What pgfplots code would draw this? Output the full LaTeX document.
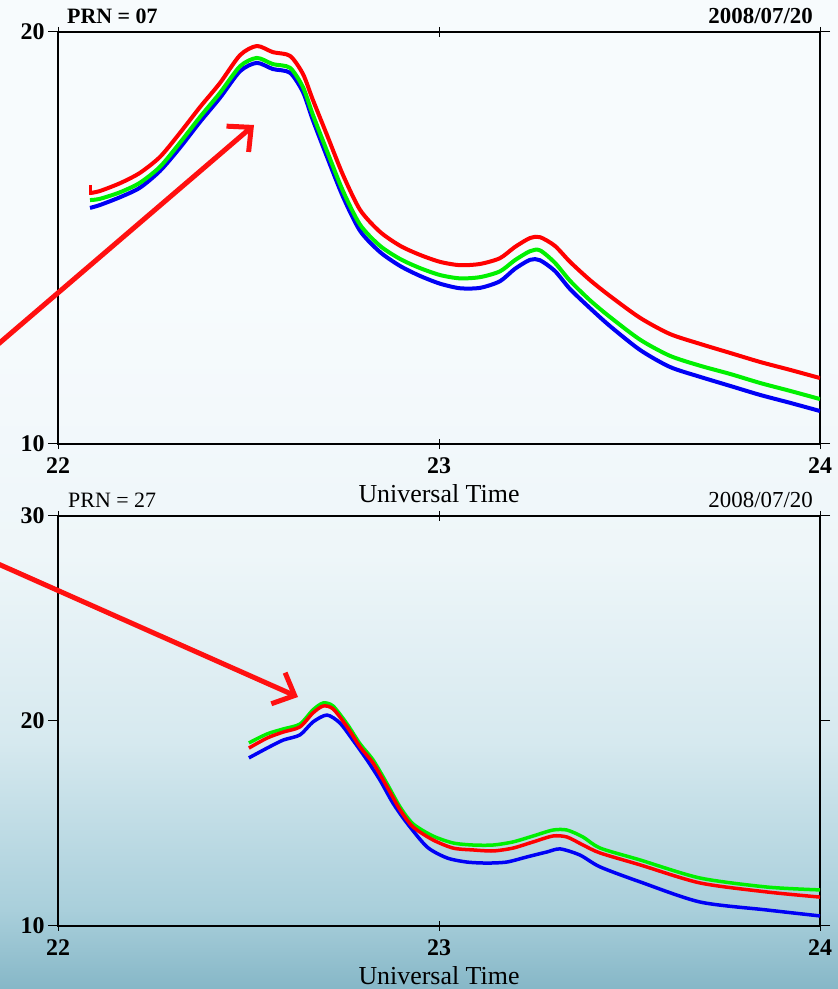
\documentclass[border=0pt]{standalone}
\usepackage{pgfplots}
\pgfplotsset{compat=1.18}
\usepackage{fontspec}
\setmainfont{Liberation Serif}
\usetikzlibrary{arrows.meta}

\definecolor{cr}{HTML}{FF0000}
\definecolor{cg}{HTML}{00F000}
\definecolor{cb}{HTML}{0000F5}
\definecolor{arr}{HTML}{FF1010}
\definecolor{bg0}{HTML}{86B7C7}
\definecolor{bg1}{HTML}{A9CFDB}
\definecolor{bg2}{HTML}{D6E9EF}
\definecolor{bg3}{HTML}{EEF6F9}
\definecolor{bg4}{HTML}{F7FBFD}
% TikZ fits the path to the 25bp..75bp band of the shading
\pgfdeclareverticalshading{bgshade}{100bp}{color(0bp)=(bg0); color(25bp)=(bg0); color(29bp)=(bg1); color(37.5bp)=(bg2); color(47bp)=(bg3); color(60bp)=(bg4); color(100bp)=(bg4)}

\pgfplotsset{
  panel/.style={
    scale only axis, width=762bp,
    xmin=22, xmax=24, xtick={22,23,24},
    clip mode=individual,
    axis line style={line width=1.2bp, black},
    tick style={line width=1bp, black},
    major tick length=10bp,
    ytick align=outside, xtick align=center,
    /pgf/number format/assume math mode=true,
    ticklabel style={font=\fontsize{24}{24}\selectfont\bfseries},
    xticklabel style={yshift=-5bp},
    xlabel={Universal Time},
    xlabel style={font=\fontsize{26}{26}\selectfont, at={(axis description cs:0.5,0)}, anchor=base, yshift=-59bp},
    every axis plot/.append style={line join=round, smooth, tension=0.45},
  }
}

\begin{document}
\begin{tikzpicture}[x=1bp,y=1bp]
\useasboundingbox (0,0) rectangle (838,989);
\shade[shading=bgshade] (0,0) rectangle (838,989);

% ---------- top panel: PRN 07 ----------
\begin{axis}[panel, at={(58bp,545bp)}, anchor=south west, height=412bp,
  ymin=10, ymax=20, ytick={10,20}, every axis plot/.append style={line width=4bp}]
\addplot[cb] coordinates {
(22.084,15.73)(22.110,15.80)(22.163,15.99)(22.215,16.22)(22.268,16.63)(22.320,17.19)
(22.373,17.82)(22.425,18.40)(22.478,19.05)(22.522,19.25)(22.564,19.10)(22.609,19.01)
(22.643,18.54)(22.669,17.86)(22.706,16.97)(22.748,16.00)(22.793,15.17)(22.845,14.66)
(22.898,14.32)(22.950,14.08)(23.003,13.89)(23.055,13.78)(23.108,13.79)(23.160,13.95)
(23.199,14.25)(23.239,14.47)(23.265,14.46)(23.304,14.20)(23.344,13.76)(23.396,13.30)
(23.449,12.86)(23.528,12.28)(23.606,11.87)(23.685,11.63)(23.764,11.41)(23.843,11.19)
(23.921,11.00)(24.000,10.80)};
\addplot[cg] coordinates {
(22.084,15.92)(22.110,15.95)(22.163,16.11)(22.215,16.34)(22.268,16.73)(22.320,17.31)
(22.373,17.94)(22.425,18.52)(22.478,19.17)(22.522,19.37)(22.564,19.22)(22.609,19.13)
(22.643,18.66)(22.669,17.99)(22.706,17.11)(22.748,16.14)(22.793,15.32)(22.845,14.81)
(22.898,14.49)(22.950,14.27)(23.003,14.10)(23.055,14.02)(23.108,14.05)(23.160,14.19)
(23.199,14.46)(23.239,14.68)(23.265,14.70)(23.304,14.40)(23.344,13.96)(23.396,13.49)
(23.449,13.08)(23.528,12.53)(23.606,12.14)(23.685,11.90)(23.764,11.70)(23.843,11.48)
(23.921,11.29)(24.000,11.09)};
\addplot[cr, sharp plot, line width=3bp] coordinates {(22.084,16.29)(22.084,16.05)};
\addplot[cr] coordinates {
(22.084,16.09)(22.110,16.14)(22.163,16.33)(22.215,16.58)(22.268,16.97)(22.320,17.55)
(22.373,18.18)(22.425,18.76)(22.478,19.44)(22.522,19.66)(22.564,19.51)(22.609,19.42)
(22.643,18.98)(22.669,18.35)(22.706,17.50)(22.748,16.53)(22.793,15.68)(22.845,15.15)
(22.898,14.81)(22.950,14.59)(23.003,14.42)(23.055,14.34)(23.108,14.37)(23.160,14.51)
(23.199,14.78)(23.239,15.00)(23.265,15.02)(23.304,14.81)(23.344,14.42)(23.396,13.98)
(23.449,13.59)(23.528,13.06)(23.606,12.67)(23.685,12.43)(23.764,12.21)(23.843,11.99)
(23.921,11.80)(24.000,11.60)};
\node[anchor=base west, inner sep=0, xshift=9bp, yshift=8bp, font=\fontsize{22}{22}\selectfont\bfseries] at (rel axis cs:0,1) {PRN = 07};
\node[anchor=base east, inner sep=0, xshift=-7bp, yshift=8bp, font=\fontsize{23}{23}\selectfont\bfseries] at (rel axis cs:1,1) {2008/07/20};
\end{axis}

% ---------- bottom panel: PRN 27 ----------
\begin{axis}[panel, at={(58bp,63bp)}, anchor=south west, height=410bp,
  ymin=10, ymax=30, ytick={10,20,30}, every axis plot/.append style={line width=3.5bp}]
\addplot[cb] coordinates {
(22.501,18.20)(22.549,18.68)(22.591,19.07)(22.635,19.32)(22.669,19.95)(22.706,20.29)
(22.740,19.90)(22.774,19.07)(22.811,18.10)(22.845,17.12)(22.879,16.00)(22.916,15.02)
(22.969,13.85)(23.021,13.32)(23.073,13.12)(23.126,13.07)(23.178,13.12)(23.231,13.37)
(23.283,13.61)(23.318,13.76)(23.370,13.46)(23.423,12.88)(23.528,12.15)(23.685,11.17)
(23.861,10.78)(24.000,10.49)};
\addplot[cg] coordinates {
(22.501,18.93)(22.549,19.37)(22.591,19.61)(22.635,19.85)(22.669,20.54)(22.696,20.88)
(22.722,20.73)(22.759,19.85)(22.793,18.88)(22.827,18.10)(22.864,16.93)(22.898,15.80)
(22.932,14.98)(22.984,14.39)(23.037,14.05)(23.089,13.95)(23.142,13.95)(23.194,14.10)
(23.247,14.39)(23.299,14.68)(23.336,14.68)(23.378,14.34)(23.423,13.80)(23.528,13.22)
(23.685,12.34)(23.861,11.90)(24.000,11.76)};
\addplot[cr] coordinates {
(22.501,18.68)(22.549,19.17)(22.591,19.46)(22.635,19.71)(22.669,20.39)(22.696,20.73)
(22.722,20.59)(22.759,19.71)(22.793,18.73)(22.827,17.95)(22.864,16.78)(22.898,15.66)
(22.932,14.83)(22.984,14.20)(23.037,13.80)(23.089,13.71)(23.142,13.66)(23.194,13.80)
(23.247,14.10)(23.299,14.39)(23.336,14.34)(23.378,13.95)(23.423,13.56)(23.528,12.98)
(23.685,12.10)(23.861,11.66)(24.000,11.41)};
\node[anchor=base west, inner sep=0, xshift=10bp, yshift=8bp, font=\fontsize{22}{22}\selectfont] at (rel axis cs:0,1) {PRN = 27};
\node[anchor=base east, inner sep=0, xshift=-7bp, yshift=8bp, font=\fontsize{23}{23}\selectfont] at (rel axis cs:1,1) {2008/07/20};
\end{axis}

% annotation arrows
\draw[arr, line width=5bp, -{Straight Barb[length=18bp,width=34bp,line width=5bp]}] (-4,643) -- (254,864);
\draw[arr, line width=5bp, -{Straight Barb[length=18bp,width=34bp,line width=5bp]}] (-4,426) -- (298,292);
\end{tikzpicture}
\end{document}
